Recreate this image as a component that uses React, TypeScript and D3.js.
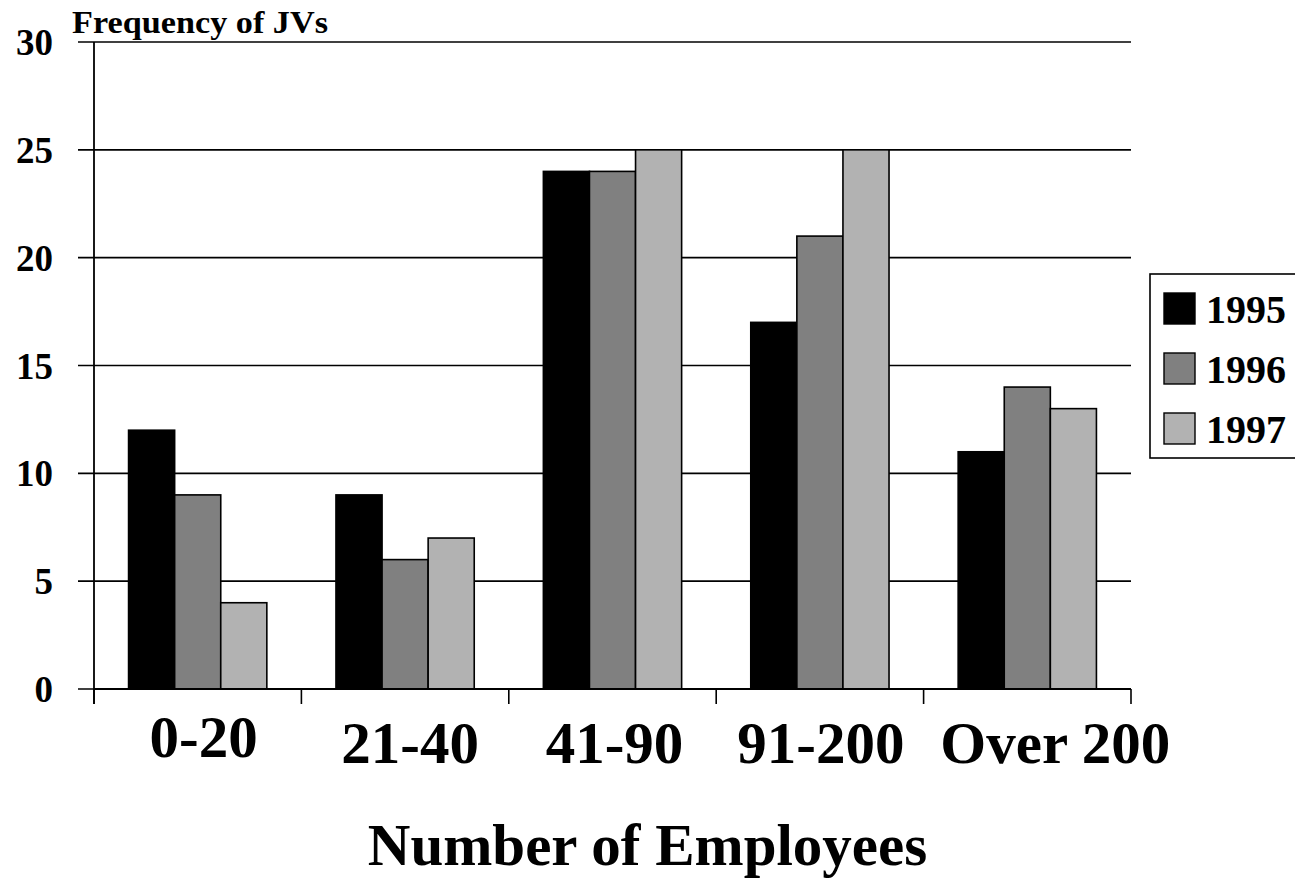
import React from "react";
import * as d3 from "d3";

const categories = ["0-20", "21-40", "41-90", "91-200", "Over 200"];
const seriesNames = ["1995", "1996", "1997"];
const values1995 = [12, 9, 24, 17, 11];
const values1996 = [9, 6, 24, 21, 14];
const values1997 = [4, 7, 25, 25, 13];
const yTicks = [0, 5, 10, 15, 20, 25, 30];
const seriesColors = ["#000000", "#808080", "#b2b2b2"];
// small per-label nudges of the category captions (px)
const labelDx = [6, 5, 2, 1, 28];
const labelDy = [-6, 0, 0, 0, 0];

const W = 1295;
const H = 878;
const plot = { left: 94, right: 1131, top: 42, bottom: 689 };
const FONT = "'Liberation Serif', 'Times New Roman', Times, serif";

export default function App() {
  const series = [values1995, values1996, values1997];

  const x = d3
    .scaleBand<string>()
    .domain(categories)
    .range([plot.left, plot.right])
    .paddingInner(0)
    .paddingOuter(0);
  // Excel-style gap width of 150%: three bars plus 1.5 bar widths of gap per band
  const barW = x.bandwidth() / 4.5;
  const groupOffset = barW * 0.75;
  const inner = d3
    .scaleBand<string>()
    .domain(seriesNames)
    .range([0, barW * 3]);

  const y = d3.scaleLinear().domain([0, 30]).range([plot.bottom, plot.top]);

  const boundaries = d3.range(categories.length + 1).map((i) =>
    i < categories.length ? (x(categories[i]) as number) : plot.right
  );

  return (
    <svg
      width={W}
      height={H}
      style={{ position: "absolute", left: 0, top: 0, background: "#fff" }}
      fontFamily={FONT}
      fontWeight="bold"
    >
      {/* horizontal gridlines with tick stubs left of the axis */}
      {yTicks.map((t) => (
        <g key={t}>
          <line
            x1={plot.left - 16}
            x2={plot.right}
            y1={y(t)}
            y2={y(t)}
            stroke="#000"
            strokeWidth={1.6}
          />
          <text
            x={53}
            y={y(t) + 13}
            textAnchor="end"
            fontSize={37}
            fill="#000"
          >
            {t}
          </text>
        </g>
      ))}

      {/* bars */}
      {categories.map((c, ci) => (
        <g key={c}>
          {seriesNames.map((s, si) => {
            const v = series[si][ci];
            const bx = (x(c) as number) + groupOffset + (inner(s) as number);
            return (
              <rect
                key={s}
                x={bx}
                y={y(v)}
                width={inner.bandwidth()}
                height={y(0) - y(v)}
                fill={seriesColors[si]}
                stroke="#000"
                strokeWidth={1.6}
              />
            );
          })}
        </g>
      ))}

      {/* axes */}
      <line
        x1={plot.left}
        x2={plot.left}
        y1={plot.top}
        y2={plot.bottom + 15}
        stroke="#000"
        strokeWidth={1.8}
      />
      <line
        x1={plot.left}
        x2={plot.right}
        y1={plot.bottom}
        y2={plot.bottom}
        stroke="#000"
        strokeWidth={1.8}
      />
      {boundaries.map((bx, i) => (
        <line
          key={i}
          x1={bx}
          x2={bx}
          y1={plot.bottom}
          y2={plot.bottom + 15}
          stroke="#000"
          strokeWidth={1.6}
        />
      ))}

      {/* category labels */}
      {categories.map((c, i) => (
        <text
          key={c}
          x={(x(c) as number) + x.bandwidth() / 2 + labelDx[i]}
          y={763 + labelDy[i]}
          textAnchor="middle"
          fontSize={59}
          fill="#000"
        >
          {c}
        </text>
      ))}

      {/* titles */}
      <text
        x={72}
        y={33}
        fontSize={31}
        textLength={256}
        lengthAdjust="spacingAndGlyphs"
        fill="#000"
      >
        Frequency of JVs
      </text>
      <text
        x={(plot.left + plot.right) / 2 + 35}
        y={865}
        textAnchor="middle"
        fontSize={59}
        fill="#000"
      >
        Number of Employees
      </text>

      {/* legend */}
      <rect
        x={1150}
        y={274}
        width={160}
        height={184}
        fill="#fff"
        stroke="#000"
        strokeWidth={1.6}
      />
      {seriesNames.map((s, si) => (
        <g key={s} transform={`translate(0, ${si * 60})`}>
          <rect
            x={1164}
            y={293}
            width={31}
            height={31}
            fill={seriesColors[si]}
            stroke="#000"
            strokeWidth={1.4}
          />
          <text x={1206} y={323} fontSize={40} fill="#000">
            {s}
          </text>
        </g>
      ))}
    </svg>
  );
}
